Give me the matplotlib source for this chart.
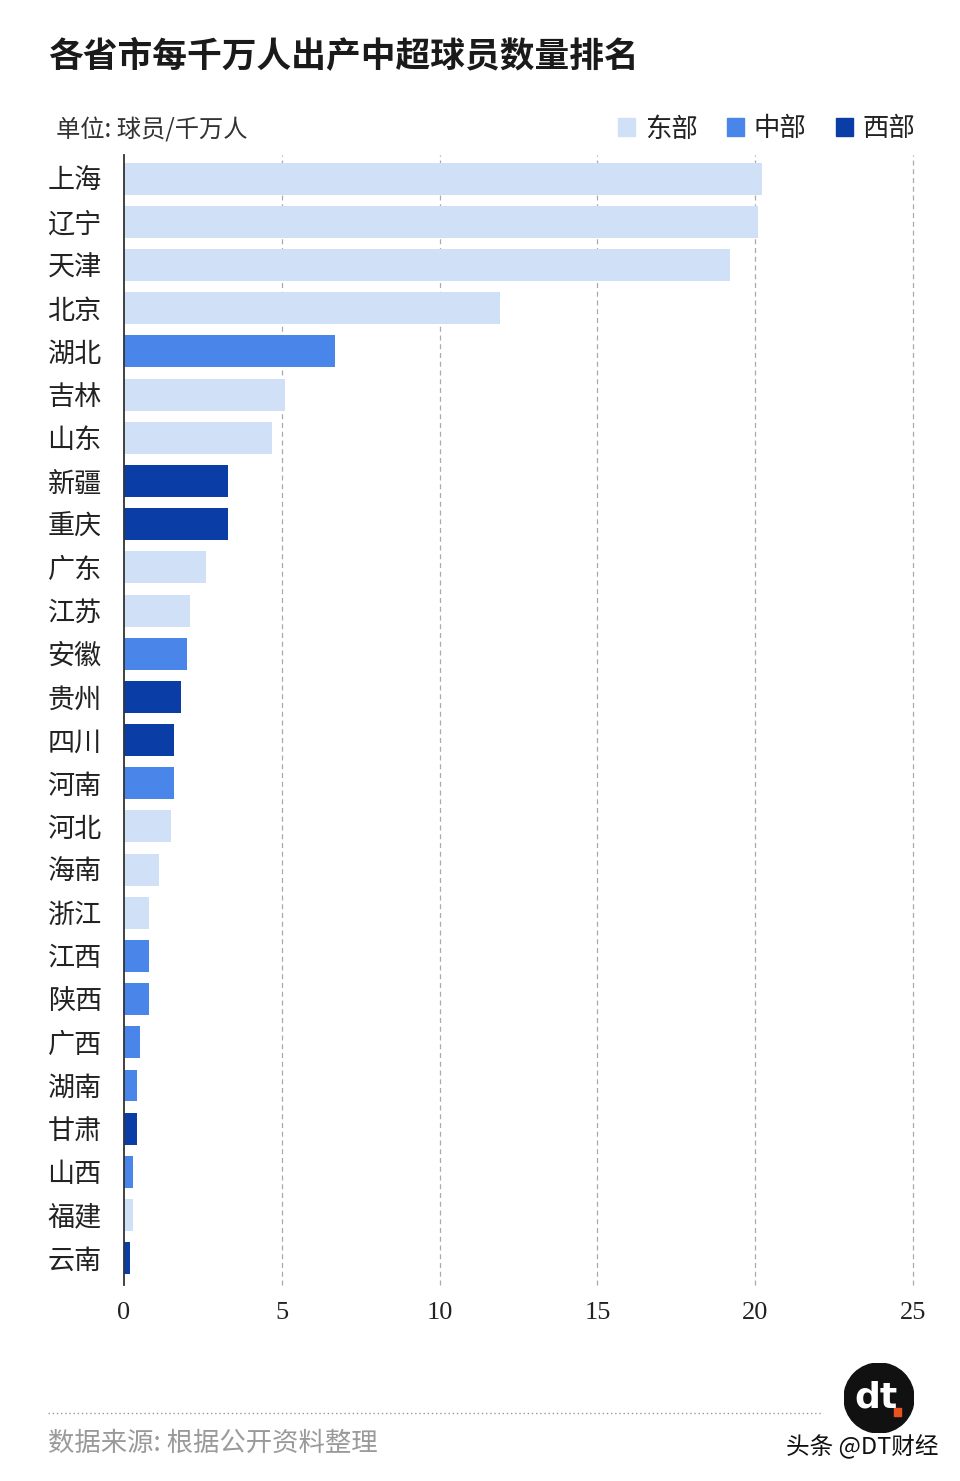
import matplotlib
matplotlib.use("Agg")
import matplotlib.pyplot as plt
import matplotlib.patches as mpatches

plt.rcParams['font.family'] = ['Noto Sans CJK SC', 'DejaVu Sans']

#---------- Data ----------
provinces = ["上海", "辽宁", "天津", "北京", "湖北", "吉林", "山东", "新疆", "重庆", "广东",
             "江苏", "安徽", "贵州", "四川", "河南", "河北", "海南", "浙江", "江西", "陕西",
             "广西", "湖南", "甘肃", "山西", "福建", "云南"]
players_per_10m = [20.2, 20.1, 19.2, 11.9, 6.7, 5.1, 4.7, 3.3, 3.3, 2.6,
                   2.1, 2.0, 1.8, 1.6, 1.6, 1.5, 1.1, 0.8, 0.8, 0.8,
                   0.5, 0.4, 0.4, 0.3, 0.3, 0.2]
regions = ["东部", "东部", "东部", "东部", "中部", "东部", "东部", "西部", "西部", "东部",
           "东部", "中部", "西部", "西部", "中部", "东部", "东部", "东部", "中部", "中部",
           "中部", "中部", "西部", "中部", "东部", "西部"]
region_names = ["东部", "中部", "西部"]
x_ticks = [0, 5, 10, 15, 20, 25]

region_colors = {"东部": "#d0e0f6", "中部": "#4a86ea", "西部": "#0a3ea6"}

#---------- Figure ----------
fig = plt.figure(figsize=(9.6, 14.81), dpi=100)
ax = fig.add_axes([124 / 960, 1 - 1285 / 1481, (913 - 124) / 960, (1285 - 155) / 1481])

y_pos = list(range(len(provinces)))
bar_colors = [region_colors[r] for r in regions]
ax.barh(y_pos, players_per_10m, height=0.74, color=bar_colors, zorder=2)

ax.set_xlim(0, 25)
ax.set_ylim(25.62, -0.55)
ax.set_yticks(y_pos)
ax.set_yticklabels(provinces, fontsize=19.5, color="#222222")
ax.set_xticks(x_ticks)
ax.set_xticklabels([str(t) for t in x_ticks], fontsize=19, color="#222222",
                   family=["Liberation Serif", "DejaVu Serif"])
ax.tick_params(axis="y", length=0, pad=16)
ax.tick_params(axis="x", length=0, pad=12)

# dashed vertical grid
for t in x_ticks[1:]:
    ax.axvline(t, color="#aaaaaa", linestyle=(0, (4, 3)), linewidth=0.9, zorder=1,
               clip_on=False)

for side in ["top", "right", "bottom"]:
    ax.spines[side].set_visible(False)
ax.spines["left"].set_color("#333333")
ax.spines["left"].set_linewidth(1.3)
ax.spines["left"].set_zorder(3)

#---------- Title / subtitle ----------
fig.text(48 / 960, 1 - 56 / 1481, "各省市每千万人出产中超球员数量排名", fontsize=25,
         fontweight="bold", color="#1a1a1a", va="center", ha="left")
fig.text(56 / 960, 1 - 130 / 1481, "单位: 球员/千万人", fontsize=17.5, color="#333333",
         va="center", ha="left")

#---------- Legend ----------
legend_handles = [mpatches.Patch(color=region_colors[r], label=r) for r in region_names]
leg = fig.legend(handles=legend_handles, loc="center right", ncol=3,
                 bbox_to_anchor=(934 / 960, 1 - 129 / 1481), frameon=False,
                 fontsize=19, handlelength=0.65, handleheight=0.65,
                 handletextpad=0.38, columnspacing=1.1, borderpad=0.2)
for txt in leg.get_texts():
    txt.set_color("#222222")

#---------- Footer ----------
fig.add_artist(plt.Line2D([48 / 960, 822 / 960], [1 - 1413 / 1481, 1 - 1413 / 1481],
                          color="#999999", linestyle=(0, (1, 2)), linewidth=1.0))
fig.text(48 / 960, 1 - 1443 / 1481, "数据来源: 根据公开资料整理", fontsize=19,
         color="#9a9a9a", va="center", ha="left")

# logo
logo_ax = fig.add_axes([844 / 960, 1 - 1433 / 1481, 70 / 960, 70 / 1481])
logo_ax.set_xlim(-1, 1)
logo_ax.set_ylim(-1, 1)
logo_ax.set_aspect("equal")
logo_ax.axis("off")
logo_ax.add_patch(mpatches.Circle((0, 0), 1, color="#111111"))
logo_ax.text(-0.08, 0.02, "dt", color="white", fontsize=26, fontweight="bold",
             ha="center", va="center", family=["DejaVu Sans"])
logo_ax.add_patch(mpatches.Rectangle((0.42, -0.52), 0.22, 0.22, color="#e8531f"))

fig.text(938 / 960, 1 - 1447 / 1481, "头条 @DT财经", fontsize=17, color="#111111",
         va="center", ha="right")

fig.savefig("out.png", dpi=100, facecolor="white")
